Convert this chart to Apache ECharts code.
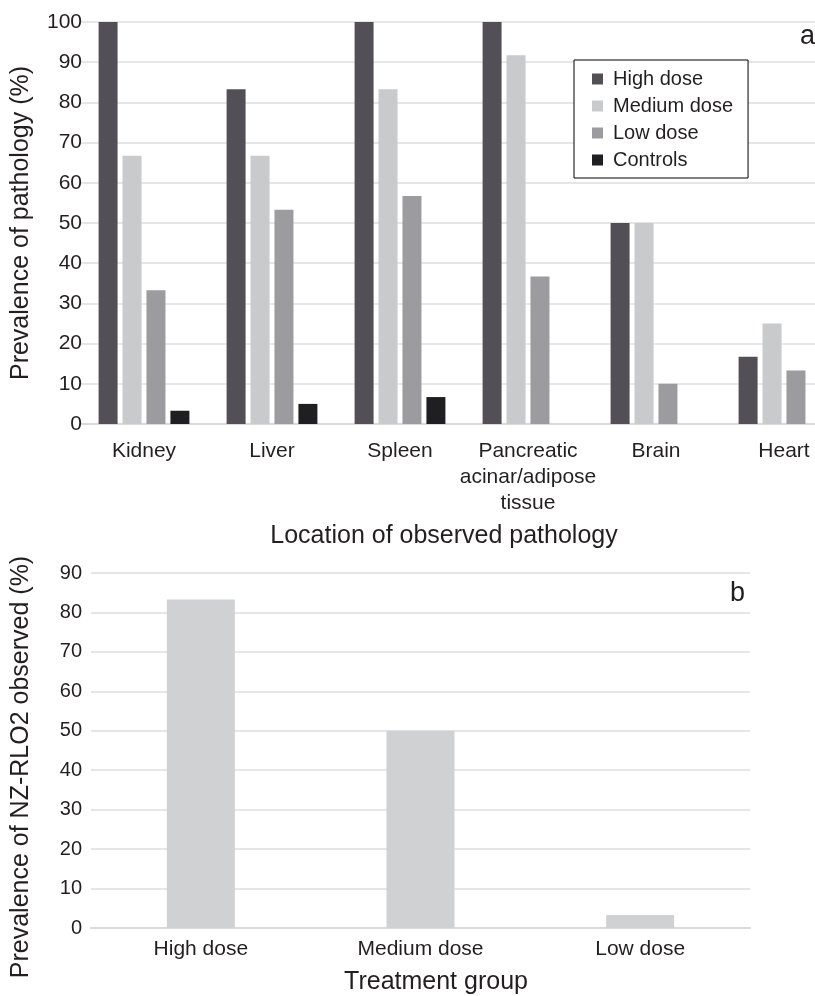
<!DOCTYPE html>
<html>
<head>
<meta charset="utf-8">
<script src="https://cdn.jsdelivr.net/npm/echarts@6/dist/echarts.min.js"></script>
<style>
  html, body { margin: 0; padding: 0; overflow: hidden; background: #fff; }
  #chart { width: 850px; height: 996px; }
</style>
</head>
<body>
<div id="chart"></div>
<script>
// panel a: prevalence of pathology by organ
const organs = ['Kidney', 'Liver', 'Spleen', 'Pancreatic\nacinar/adipose\ntissue', 'Brain', 'Heart']
const highDose = [100, 83.3, 100, 100, 50, 16.7]
const mediumDose = [66.7, 66.7, 83.3, 91.7, 50, 25]
const lowDose = [33.3, 53.3, 56.7, 36.7, 10, 13.3]
const controls = [3.3, 5, 6.7, 0, 0, 0]

// panel b: NZ-RLO2 prevalence by treatment group
const groups = ['High dose', 'Medium dose', 'Low dose']
const rlo2 = [83.3, 50, 3.3]

const textColor = '#231f20'
const font = 'Liberation Sans, Arial, Helvetica, sans-serif'
const gridLine = { lineStyle: { color: '#e6e6e6', width: 2 } }
const baseLine = { show: true, lineStyle: { color: '#d9d9d9', width: 2 } }

const chart = echarts.init(document.getElementById('chart'))
chart.setOption({
  animation: false,
  textStyle: { fontFamily: font, color: textColor },
  title: [
    { text: 'a', left: 800, top: 23, padding: 0, textStyle: { fontSize: 27, fontWeight: 'normal', color: textColor, fontFamily: font } },
    { text: 'b', left: 730, top: 580, padding: 0, textStyle: { fontSize: 27, fontWeight: 'normal', color: textColor, fontFamily: font } }
  ],
  legend: {
    data: ['High dose', 'Medium dose', 'Low dose', 'Controls'],
    orient: 'vertical',
    left: 574,
    top: 60,
    padding: [9, 15, 8, 18],
    itemGap: 7,
    itemWidth: 11,
    itemHeight: 11,
    icon: 'rect',
    backgroundColor: '#fff',
    borderColor: '#000',
    borderWidth: 1,
    textStyle: { fontSize: 20, lineHeight: 20, color: textColor, fontFamily: font, padding: [0, 0, 0, 5] }
  },
  grid: [
    { left: 80, top: 22, width: 768, height: 402 },
    { left: 91, top: 573, width: 659, height: 355 }
  ],
  xAxis: [
    {
      gridIndex: 0,
      type: 'category',
      data: organs,
      axisLine: baseLine,
      axisTick: { show: false },
      axisLabel: { interval: 0, hideOverlap: false, margin: 14, fontSize: 21, lineHeight: 26, color: textColor, fontFamily: font },
      name: 'Location of observed pathology',
      nameLocation: 'middle',
      nameGap: 100,
      nameTextStyle: { fontSize: 25, color: textColor, fontFamily: font, padding: [0, 40, 0, 0] }
    },
    {
      gridIndex: 1,
      type: 'category',
      data: groups,
      axisLine: baseLine,
      axisTick: { show: false },
      axisLabel: { interval: 0, margin: 11, fontSize: 21, color: textColor, fontFamily: font },
      name: 'Treatment group',
      nameLocation: 'middle',
      nameGap: 42,
      nameTextStyle: { fontSize: 25, color: textColor, fontFamily: font, padding: [0, 0, 0, 31] }
    }
  ],
  yAxis: [
    {
      gridIndex: 0,
      type: 'value',
      min: 0,
      max: 100,
      interval: 10,
      axisLine: { show: false },
      axisTick: { show: false },
      axisLabel: { margin: -2, fontSize: 21, color: textColor, fontFamily: font },
      splitLine: gridLine,
      name: 'Prevalence of pathology (%)',
      nameLocation: 'middle',
      nameGap: 46,
      nameTextStyle: { fontSize: 25, color: textColor, fontFamily: font }
    },
    {
      gridIndex: 1,
      type: 'value',
      min: 0,
      max: 90,
      interval: 10,
      axisLine: { show: false },
      axisTick: { show: false },
      axisLabel: { margin: 9, fontSize: 20, color: textColor, fontFamily: font },
      splitLine: gridLine,
      name: 'Prevalence of NZ-RLO2 observed (%)',
      nameLocation: 'middle',
      nameGap: 57,
      nameTextStyle: { fontSize: 25, color: textColor, fontFamily: font, padding: [0, 33, 0, 0] }
    }
  ],
  series: [
    { name: 'High dose', type: 'bar', xAxisIndex: 0, yAxisIndex: 0, data: highDose, barWidth: 19, barGap: '26%', itemStyle: { color: '#525056' } },
    { name: 'Medium dose', type: 'bar', xAxisIndex: 0, yAxisIndex: 0, data: mediumDose, barWidth: 19, barGap: '26%', itemStyle: { color: '#c9cacc' } },
    { name: 'Low dose', type: 'bar', xAxisIndex: 0, yAxisIndex: 0, data: lowDose, barWidth: 19, barGap: '26%', itemStyle: { color: '#9c9b9f' } },
    { name: 'Controls', type: 'bar', xAxisIndex: 0, yAxisIndex: 0, data: controls, barWidth: 19, barGap: '26%', itemStyle: { color: '#1f1f22' } },
    { name: 'NZ-RLO2', type: 'bar', xAxisIndex: 1, yAxisIndex: 1, data: rlo2, barWidth: 68, itemStyle: { color: '#d0d1d3' } }
  ]
})
</script>
</body>
</html>
